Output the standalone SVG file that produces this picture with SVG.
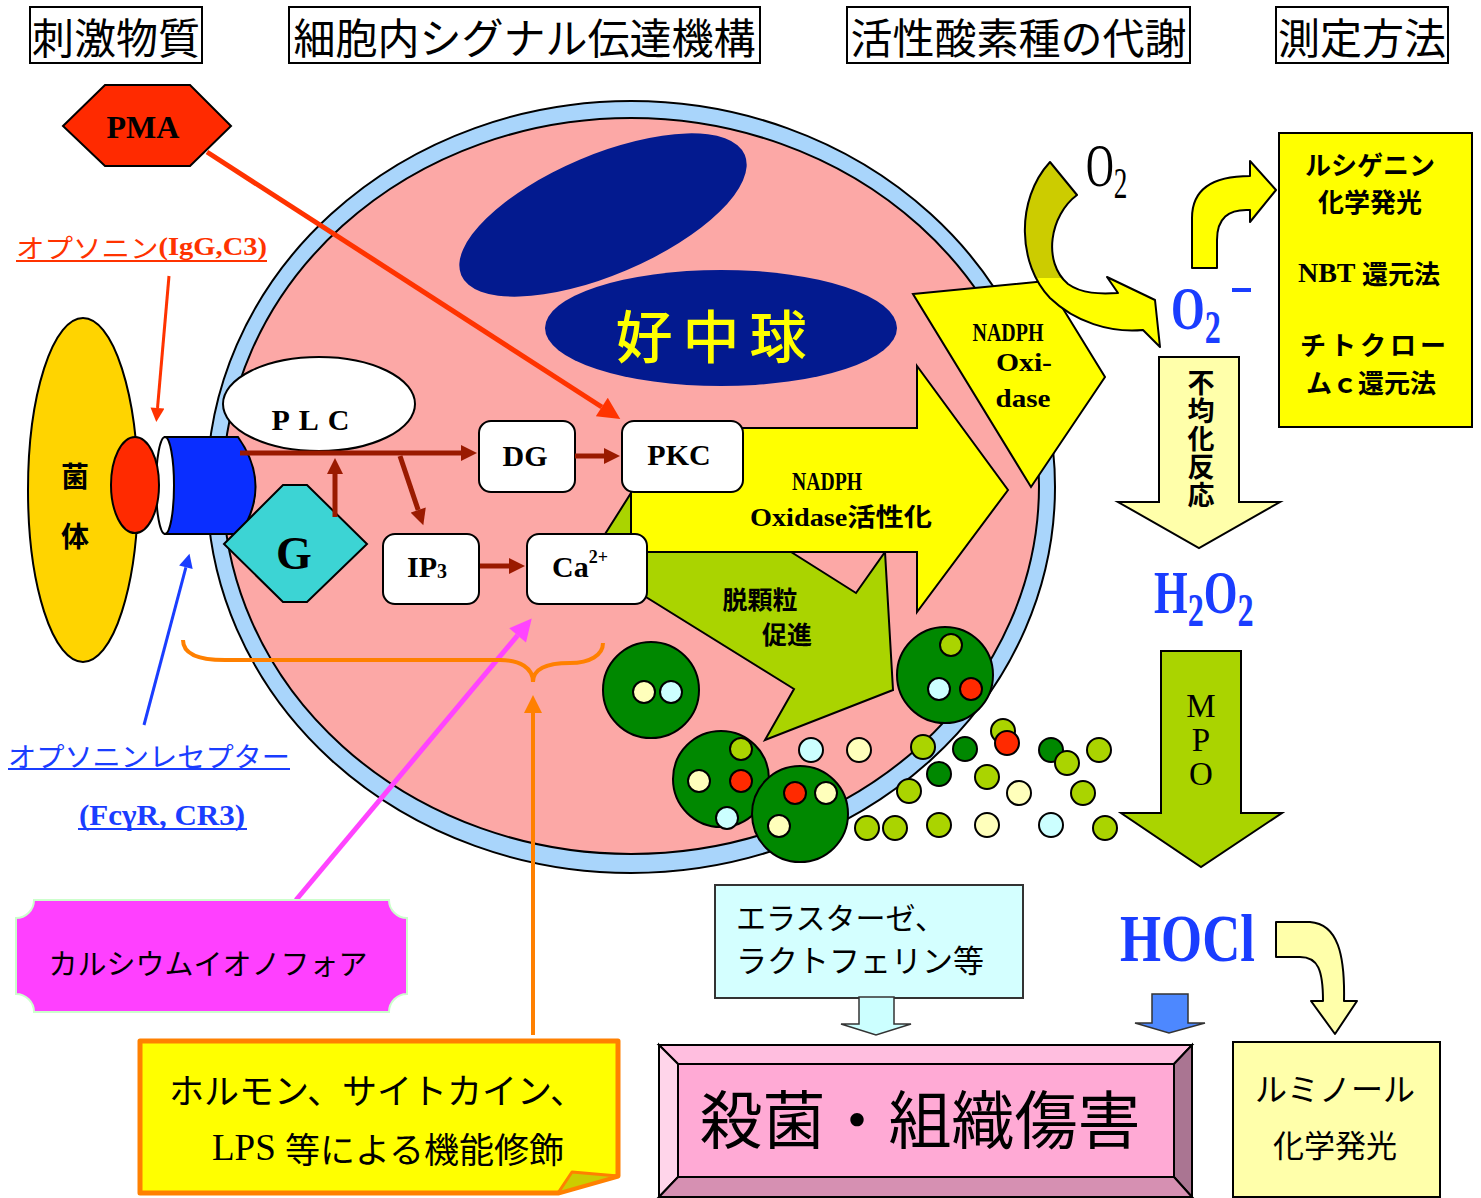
<svg xmlns="http://www.w3.org/2000/svg" width="1481" height="1198" viewBox="0 0 1481 1198">
<defs>
<style>
.jp{font-family:"Noto Sans CJK JP","Noto Sans",sans-serif}
.sf{font-family:"Liberation Serif","Noto Sans CJK JP",serif}
.c{text-anchor:middle;dominant-baseline:central}
.b{font-weight:bold}
.ttl{font-size:42px}
.tbox{fill:#fff;stroke:#000;stroke-width:2}
.box{fill:#fff;stroke:#000;stroke-width:2}
.g{stroke:#000;stroke-width:2}
.big{fill:#008800}
.py{fill:#FFFFBB}
.pc{fill:#CCFFFF}
.yg{fill:#AAD400}
.dg{fill:#008800}
.rd{fill:#FF2A00}
.lat{font-family:"Liberation Serif",serif;font-weight:bold}
.vert{writing-mode:vertical-rl;text-orientation:upright}
</style>
<marker id="mR" viewBox="0 0 10 10" refX="0" refY="5" markerWidth="24" markerHeight="22" markerUnits="userSpaceOnUse" orient="auto"><path d="M0,0L10,5L0,10z" fill="#FF3300"/></marker>
<marker id="mO" viewBox="0 0 10 10" refX="0" refY="5" markerWidth="18" markerHeight="14" markerUnits="userSpaceOnUse" orient="auto"><path d="M0,0L10,5L0,10z" fill="#FF3300"/></marker>
<marker id="mB" viewBox="0 0 10 10" refX="0" refY="5" markerWidth="20" markerHeight="14" markerUnits="userSpaceOnUse" orient="auto"><path d="M0,0L10,5L0,10z" fill="#1A3DFF"/></marker>
<marker id="mD" viewBox="0 0 10 10" refX="0" refY="5" markerWidth="18" markerHeight="16" markerUnits="userSpaceOnUse" orient="auto"><path d="M0,0L10,5L0,10z" fill="#9A1A00"/></marker>
<marker id="mM" viewBox="0 0 10 10" refX="0" refY="5" markerWidth="24" markerHeight="22" markerUnits="userSpaceOnUse" orient="auto"><path d="M0,0L10,5L0,10z" fill="#FF44FF"/></marker>
<marker id="mOr" viewBox="0 0 10 10" refX="0" refY="5" markerWidth="20" markerHeight="18" markerUnits="userSpaceOnUse" orient="auto"><path d="M0,0L10,5L0,10z" fill="#FF8000"/></marker>
<linearGradient id="olive" gradientUnits="userSpaceOnUse" x1="0" y1="160" x2="0" y2="350">
<stop offset="0.62" stop-color="#CCCC00"/><stop offset="0.62" stop-color="#FFFF00"/>
</linearGradient>
</defs>

<rect width="1481" height="1198" fill="#fff"/>

<!-- column headings -->
<g id="heading-stimuli">
<rect class="tbox" x="30" y="7" width="172" height="56"/>
<text class="jp c ttl" x="116" y="35">刺激物質</text>
</g>
<g id="heading-signal">
<rect class="tbox" x="289" y="7" width="471" height="56"/>
<text class="jp c ttl" x="524.5" y="35">細胞内シグナル伝達機構</text>
</g>
<g id="heading-ros">
<rect class="tbox" x="847" y="7" width="343" height="56"/>
<text class="jp c ttl" x="1018.5" y="35">活性酸素種の代謝</text>
</g>
<g id="heading-method">
<rect class="tbox" x="1276" y="7" width="172" height="56"/>
<text class="jp c ttl" x="1362" y="35">測定方法</text>
</g>

<!-- neutrophil cell body -->
<g id="cell">
<ellipse cx="631" cy="487" rx="424" ry="386" fill="#A9D5FB" stroke="#000" stroke-width="2"/>
<ellipse cx="631" cy="486" rx="408" ry="368" fill="#FCA8A6" stroke="#000" stroke-width="2"/>
</g>
<g id="nucleus">
<ellipse cx="603" cy="215" rx="154" ry="60" transform="rotate(-23 603 215)" fill="#031A8F"/>
<ellipse cx="721" cy="328" rx="176" ry="58" fill="#031A8F"/>
<text class="jp c" x="716" y="333" font-size="57" font-weight="500" fill="#FFFF00" letter-spacing="10">好中球</text>
</g>

<!-- degranulation arrow -->
<g id="degranulation">
<polygon points="650,463 856,593 885,552 893,690 765,740 794,689 588,561" fill="#AAD400" stroke="#000" stroke-width="2"/>
<text class="jp c b" x="760" y="598" font-size="25">脱顆粒</text>
<text class="jp c b" x="787" y="633" font-size="25">促進</text>
</g>

<!-- NADPH oxidase activation arrow -->
<g id="activation">
<polygon points="631,428 917,428 917,366 1008,490 917,612 917,552 631,552" fill="#FFFF00" stroke="#000" stroke-width="2"/>
<text class="sf c b" x="827" y="481" font-size="25" textLength="70" lengthAdjust="spacingAndGlyphs">NADPH</text>
<text class="sf c b" x="841" y="517" font-size="25" textLength="182" lengthAdjust="spacingAndGlyphs">Oxidase活性化</text>
</g>

<!-- NADPH oxidase -->
<g id="nadph-oxidase">
<polygon points="913,294 1046,281 1105,377 1031,487" fill="#FFFF00" stroke="#000" stroke-width="2"/>
<text class="sf c b" x="1008" y="332" font-size="25" textLength="71" lengthAdjust="spacingAndGlyphs">NADPH</text>
<text class="sf c b" x="1024" y="362" font-size="25" textLength="56" lengthAdjust="spacingAndGlyphs">Oxi-</text>
<text class="sf c b" x="1023" y="398" font-size="25" textLength="55" lengthAdjust="spacingAndGlyphs">dase</text>
</g>

<!-- granules inside and leaving the cell -->
<g id="granule-1">
<circle class="g big" cx="651" cy="690" r="48"/>
<circle class="g py" cx="644" cy="692" r="11"/>
<circle class="g pc" cx="671" cy="692" r="11"/>
</g>
<g id="granule-2">
<circle class="g big" cx="945" cy="675" r="48"/>
<circle class="g yg" cx="951" cy="645" r="11"/>
<circle class="g pc" cx="939" cy="689" r="11"/>
<circle class="g rd" cx="971" cy="689" r="11"/>
</g>
<g id="granule-3">
<circle class="g big" cx="721" cy="779" r="48"/>
<circle class="g yg" cx="741" cy="749" r="11"/>
<circle class="g py" cx="699" cy="781" r="11"/>
<circle class="g rd" cx="741" cy="781" r="11"/>
<circle class="g pc" cx="727" cy="818" r="11"/>
</g>
<g id="granule-4">
<circle class="g big" cx="800" cy="814" r="48"/>
<circle class="g rd" cx="795" cy="793" r="11"/>
<circle class="g py" cx="826" cy="793" r="11"/>
<circle class="g py" cx="779" cy="826" r="11"/>
</g>
<g id="released-granules">
<circle class="g pc" cx="811" cy="750" r="12"/>
<circle class="g py" cx="859" cy="750" r="12"/>
<circle class="g yg" cx="923" cy="747" r="12"/>
<circle class="g dg" cx="965" cy="749" r="12"/>
<circle class="g yg" cx="1003" cy="731" r="12"/>
<circle class="g rd" cx="1007" cy="743" r="12"/>
<circle class="g dg" cx="1051" cy="750" r="12"/>
<circle class="g yg" cx="1067" cy="763" r="12"/>
<circle class="g yg" cx="1099" cy="750" r="12"/>
<circle class="g dg" cx="939" cy="774" r="12"/>
<circle class="g yg" cx="987" cy="777" r="12"/>
<circle class="g yg" cx="909" cy="791" r="12"/>
<circle class="g py" cx="1019" cy="793" r="12"/>
<circle class="g yg" cx="1083" cy="793" r="12"/>
<circle class="g yg" cx="867" cy="828" r="12"/>
<circle class="g yg" cx="895" cy="828" r="12"/>
<circle class="g yg" cx="939" cy="825" r="12"/>
<circle class="g py" cx="987" cy="825" r="12"/>
<circle class="g pc" cx="1051" cy="825" r="12"/>
<circle class="g yg" cx="1105" cy="828" r="12"/>
</g>

<!-- bacterium with opsonin and receptor -->
<g id="bacterium">
<ellipse cx="83" cy="490" rx="55" ry="172" fill="#FFD400" stroke="#000" stroke-width="2"/>
<text class="jp c b" x="75" y="475" font-size="28">菌</text>
<text class="jp c b" x="75" y="535" font-size="28">体</text>
</g>
<g id="receptor">
<path d="M165,437 L238,437 Q272,485 240,534 L165,534 Z" fill="#0A2EFF" stroke="#000" stroke-width="2"/>
<ellipse cx="165" cy="485.5" rx="9" ry="48.5" fill="#fff" stroke="#000" stroke-width="2"/>
</g>
<g id="opsonin">
<ellipse cx="135" cy="485" rx="24" ry="48" fill="#FF2A00" stroke="#000" stroke-width="2"/>
</g>

<!-- signal molecules -->
<g id="plc">
<ellipse cx="319" cy="404" rx="96" ry="47" fill="#fff" stroke="#000" stroke-width="2"/>
<text class="sf c b" x="315" y="419" font-size="30" letter-spacing="9">PLC</text>
</g>
<g id="g-protein">
<polygon points="224,544 283,485 307,485 367,544 307,602 283,602" fill="#3CD4D4" stroke="#000" stroke-width="2"/>
<text class="sf c b" x="294" y="553" font-size="46">G</text>
</g>
<g id="dg">
<rect class="box" x="479" y="421" width="96" height="71" rx="12"/>
<text class="sf c b" x="525" y="455" font-size="30">DG</text>
</g>
<g id="pkc">
<rect class="box" x="622" y="421" width="121" height="71" rx="12"/>
<text class="sf c b" x="679" y="454" font-size="30">PKC</text>
</g>
<g id="ip3">
<rect class="box" x="383" y="534" width="96" height="70" rx="12"/>
<text class="sf c b" x="427" y="566" font-size="30">IP<tspan font-size="20" dy="5">3</tspan></text>
</g>
<g id="ca">
<rect class="box" x="527" y="534" width="120" height="70" rx="12"/>
<text class="sf c b" x="580" y="566" font-size="30">Ca<tspan font-size="18" dy="-9">2+</tspan></text>
</g>

<!-- PMA -->
<g id="pma">
<polygon points="63,126 105,85 190,85 231,126 190,166 105,166" fill="#FF2A00" stroke="#000" stroke-width="2"/>
<text class="sf c b" x="143" y="127" font-size="32">PMA</text>
</g>

<!-- stimulus labels -->
<g id="label-opsonin">
<text class="jp" x="16" y="246" font-size="26" fill="#FF3300" dominant-baseline="central" textLength="251" lengthAdjust="spacingAndGlyphs">オプソニン<tspan class="lat">(IgG,C3)</tspan></text>
<line x1="16" y1="261" x2="267" y2="261" stroke="#FF3300" stroke-width="2"/>
</g>
<g id="label-receptor">
<text class="jp" x="8" y="755" font-size="27" fill="#1A3DFF" dominant-baseline="central" textLength="282" lengthAdjust="spacingAndGlyphs">オプソニンレセプター</text>
<line x1="8" y1="769" x2="290" y2="769" stroke="#1A3DFF" stroke-width="2"/>
<text class="lat" x="79" y="815" font-size="29" fill="#1A3DFF" dominant-baseline="central" textLength="166" lengthAdjust="spacingAndGlyphs">(FcγR,  CR3)</text>
<line x1="78" y1="829" x2="247" y2="829" stroke="#1A3DFF" stroke-width="2"/>
</g>

<!-- connectors -->
<g id="connectors" fill="none">
<line x1="207" y1="152" x2="601.8" y2="407" stroke="#FF3300" stroke-width="5" marker-end="url(#mR)"/>
<line x1="169" y1="276" x2="157.5" y2="408" stroke="#FF3300" stroke-width="3" marker-end="url(#mO)"/>
<line x1="144" y1="725" x2="185.9" y2="567.3" stroke="#1A3DFF" stroke-width="3" marker-end="url(#mB)"/>
<line x1="240" y1="453" x2="461" y2="453" stroke="#9A1A00" stroke-width="5" marker-end="url(#mD)"/>
<line x1="575" y1="456" x2="604" y2="456" stroke="#9A1A00" stroke-width="5" marker-end="url(#mD)"/>
<line x1="480" y1="566" x2="509" y2="566" stroke="#9A1A00" stroke-width="5" marker-end="url(#mD)"/>
<line x1="335" y1="517" x2="335" y2="474" stroke="#9A1A00" stroke-width="5" marker-end="url(#mD)"/>
<line x1="400" y1="456" x2="418.2" y2="510" stroke="#9A1A00" stroke-width="5" marker-end="url(#mD)"/>
<line x1="296" y1="900" x2="517.6" y2="635.4" stroke="#FF44FF" stroke-width="5" marker-end="url(#mM)"/>
<path d="M183,640 C183,655 200,660 225,660 L500,660 C520,660 533,668 533,682 C533,668 548,663 570,663 C590,663 603,655 603,643" stroke="#FF8000" stroke-width="4"/>
<line x1="533" y1="1035" x2="533" y2="713" stroke="#FF8000" stroke-width="4" marker-end="url(#mOr)"/>
</g>

<!-- calcium ionophore -->
<g id="ionophore">
<path d="M34,900 L389,900 A18,18 0 0 0 407,918 L407,994 A18,18 0 0 0 389,1012 L34,1012 A18,18 0 0 0 16,994 L16,918 A18,18 0 0 0 34,900 Z" fill="#FF40FF" stroke="#CCFFCC" stroke-width="2"/>
<text class="jp c" x="208" y="962" font-size="29">カルシウムイオノフォア</text>
</g>

<!-- modulators -->
<g id="modulators">
<path d="M140,1041 L618,1041 L618,1176 L558,1193 L140,1193 Z" fill="#FFFF00" stroke="#FF8000" stroke-width="5" stroke-linejoin="round"/>
<path d="M558,1193 L572,1172 L618,1176 Z" fill="#CCCC00" stroke="#FF8000" stroke-width="3" stroke-linejoin="round"/>
<text class="jp c" x="377" y="1088" font-size="35">ホルモン、サイトカイン、</text>
<text class="jp c" x="388" y="1147" font-size="35"><tspan font-family="Liberation Serif" font-size="37">LPS </tspan>等による機能修飾</text>
</g>

<!-- oxygen to superoxide -->
<g id="o2">
<text class="sf" transform="translate(1086,186) scale(0.62,1)" font-size="62">O<tspan font-size="44" dy="12">2</tspan></text>
</g>
<g id="o2-arrow">
<path d="M1050,162 L1077,195 C1050,215 1042,262 1068,284 C1082,294 1100,294 1118,293 L1107,277 L1155,300 L1160,347 L1143,330 C1110,333 1075,322 1050,298 C1018,265 1015,200 1050,162 Z" fill="url(#olive)" stroke="#000" stroke-width="2" stroke-linejoin="round"/>
</g>
<g id="superoxide">
<text class="sf b" transform="translate(1171,329) scale(0.7,1)" font-size="62" fill="#1A3DFF">O<tspan font-size="46" dy="14">2</tspan></text>
<rect x="1232" y="288" width="19" height="4" fill="#1A3DFF"/>
</g>
<g id="to-methods">
<path d="M1192,268 L1192,218 Q1192,176 1250,176 L1250,161 L1276,190 L1250,222 L1250,210 Q1217,208 1217,240 L1217,268 Z" fill="#FFFF00" stroke="#000" stroke-width="2" stroke-linejoin="round"/>
</g>
<g id="methods-o2">
<rect x="1279" y="133" width="193" height="294" fill="#FFFF00" stroke="#000" stroke-width="2"/>
<text class="jp c b" x="1370" y="163" font-size="26">ルシゲニン</text>
<text class="jp c b" x="1370" y="200" font-size="26">化学発光</text>
<text class="jp c b" x="1369" y="272" font-size="26"><tspan class="lat" font-size="28">NBT </tspan>還元法</text>
<text class="jp c b" x="1375" y="343" font-size="26" letter-spacing="4">チトクロー</text>
<text class="jp c b" x="1371" y="381" font-size="26">ムｃ還元法</text>
</g>

<!-- dismutation -->
<g id="dismutation">
<polygon points="1159,357 1239,357 1239,502 1280,502 1199,548 1118,502 1159,502" fill="#FFFFAA" stroke="#000" stroke-width="2"/>
<text class="jp b vert" x="1201" y="439" font-size="27" letter-spacing="1" text-anchor="middle">不均化反応</text>
</g>
<g id="h2o2">
<text class="sf b" transform="translate(1154,613) scale(0.7,1)" font-size="62" fill="#1A3DFF">H<tspan font-size="46" dy="13">2</tspan><tspan dy="-13">O</tspan><tspan font-size="46" dy="13">2</tspan></text>
</g>
<g id="mpo">
<polygon points="1161,651 1241,651 1241,813 1282,813 1201,867 1121,813 1161,813" fill="#AAD400" stroke="#000" stroke-width="2"/>
<text class="sf vert" x="1201" y="739" font-size="33" letter-spacing="-2" text-anchor="middle">MPO</text>
</g>
<g id="hocl">
<text class="sf b" x="1120" y="961" font-size="68" fill="#1A3DFF" textLength="135" lengthAdjust="spacingAndGlyphs">HOCl</text>
</g>
<g id="to-luminol">
<path d="M1276,922 L1310,922 C1338,924 1345,955 1344,1001 L1357,1001 L1335,1034 L1311,1001 L1323,1001 C1323,970 1318,957 1300,957 L1276,957 Z" fill="#FFFFAA" stroke="#000" stroke-width="2" stroke-linejoin="round"/>
</g>
<g id="methods-hocl">
<rect x="1233" y="1042" width="207" height="155" fill="#FFFFAA" stroke="#000" stroke-width="2"/>
<text class="jp c" x="1335" y="1087" font-size="32">ルミノール</text>
<text class="jp c" x="1335" y="1143" font-size="31">化学発光</text>
</g>

<!-- granule proteins -->
<g id="granule-proteins">
<rect x="715" y="885" width="308" height="113" fill="#D4FFFF" stroke="#333" stroke-width="2"/>
<text class="jp" x="736" y="916" font-size="30" dominant-baseline="central">エラスターゼ、</text>
<text class="jp" x="736" y="958" font-size="31" dominant-baseline="central">ラクトフェリン等</text>
</g>
<g id="proteins-arrow">
<polygon points="859,997 894,997 894,1024 911,1024 876,1035 841,1024 859,1024" fill="#CCFFFF" stroke="#333" stroke-width="1.5"/>
</g>
<g id="hocl-arrow">
<polygon points="1152,994 1188,994 1188,1023 1205,1023 1169,1033 1135,1023 1152,1023" fill="#4D88FF" stroke="#333" stroke-width="1.5"/>
</g>

<!-- outcome -->
<g id="outcome">
<polygon points="659,1045 1192,1045 1174,1064 678,1064" fill="#FFBEDF" stroke="#000" stroke-width="2"/>
<polygon points="659,1045 678,1064 678,1177 659,1197" fill="#FFD5EA" stroke="#000" stroke-width="2"/>
<polygon points="1192,1045 1192,1197 1174,1177 1174,1064" fill="#AA7592" stroke="#000" stroke-width="2"/>
<polygon points="659,1197 678,1177 1174,1177 1192,1197" fill="#D690B2" stroke="#000" stroke-width="2"/>
<rect x="678" y="1064" width="496" height="113" fill="#FFAAD5" stroke="#000" stroke-width="2"/>
<text class="jp c" x="920" y="1115" font-size="63">殺菌・組織傷害</text>
</g>
</svg>
